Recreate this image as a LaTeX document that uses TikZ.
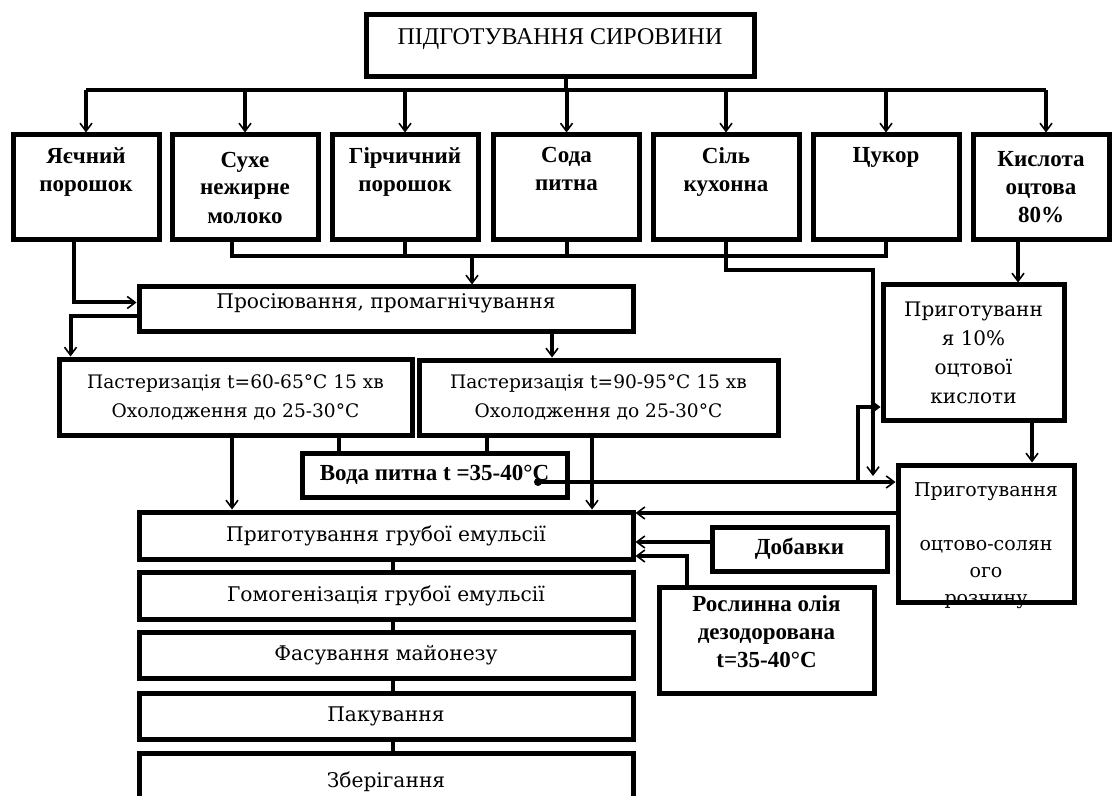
\documentclass[tikz,border=0pt]{standalone}
\usepackage{fontspec}
\setmainfont{Liberation Serif}
\newfontfamily\lite{DejaVu Serif}
\usetikzlibrary{arrows.meta}
\begin{document}
\begin{tikzpicture}[x=0.5pt,y=-0.5pt,line width=2pt,
    box/.style={draw,line width=2.5pt,inner sep=0pt,align=center},
    head/.style={box,font=\bfseries\fontsize{11.5}{14}\selectfont,minimum width=73pt,minimum height=52.5pt},
    stage/.style={box,font=\lite\fontsize{10.1}{14.5}\selectfont,minimum width=247pt},
    note/.style={box,font=\lite\fontsize{9.3}{14.5}\selectfont},
    input/.style={box,font=\bfseries\fontsize{11.5}{14}\selectfont},
    arr/.style={-{Straight Barb[length=4pt,width=6pt,line width=0.8pt]}}]
  \useasboundingbox (0,0) rectangle (1112,796);
  \clip (0,0) rectangle (1112,796);
  \node[box,font=\fontsize{12}{14}\selectfont,minimum width=194pt,minimum height=31pt,
    text height=14.75pt,text depth=16.25pt] (top) at (560,46) {ПІДГОТУВАННЯ СИРОВИНИ};
  \node[head] (egg) at (86,187.5) {Яєчний\\порошок\\\strut};
  \node[head] (milk) at (245,187.5) {Сухе\\нежирне\\молоко};
  \node[head] (mustard) at (405,187.5) {Гірчичний\\порошок\\\strut};
  \node[head] (soda) at (566.5,187.5) {Сода\\питна\\\strut};
  \node[head] (salt) at (726,187.5) {Сіль\\кухонна\\\strut};
  \node[head] (sugar) at (886,187.5) {Цукор\\\strut\\\strut};
  \node[head,minimum width=68pt] (acid) at (1041,187.5) {Кислота\\оцтова\\80\%};
  \node[stage,minimum height=22.5pt,text height=11pt,text depth=11.5pt] (sift) at (386,309.5)
    {Просіювання, промагнічування};
  \node[note,minimum width=176.5pt,minimum height=38pt] (past1) at (235.5,397)
    {Пастеризація t=60-65°C 15 хв\\Охолодження до 25-30°C};
  \node[note,minimum width=179.5pt,minimum height=37.5pt] (past2) at (598.5,397.5)
    {Пастеризація t=90-95°C 15 хв\\Охолодження до 25-30°C};
  \node[input,minimum width=132.5pt,minimum height=22pt] (water) at (434.5,475) {Вода питна t =35-40°C};
  \node[note,font=\lite\fontsize{10}{14.5}\selectfont,minimum width=90.5pt,minimum height=67.5pt] (acid10)
    at (973.5,352.5) {Приготуванн\\я 10\%\\оцтової\\кислоти};
  \node[note,font=\lite\fontsize{9.5}{13.5}\selectfont,inner ysep=-4pt,minimum width=88pt,minimum height=68.5pt]
    (brine) at (986,533.5) {\strut\\[-3.5pt]Приготування\\\strut\\оцтово-солян\\ого\\розчину};
  \node[input,minimum width=87.5pt,minimum height=22pt] (addit) at (799.5,549) {Добавки};
  \node[input,minimum width=107.5pt,minimum height=53pt] (oil) at (766.5,640)
    {Рослинна олія\\дезодорована\\t=35-40°C\\[-9.5pt]\strut};
  \node[stage,minimum height=23.5pt] (emul) at (386,535.5) {Приготування грубої емульсії};
  \node[stage,minimum height=23.5pt] (homog) at (386,595.5) {Гомогенізація грубої емульсії};
  \node[stage,minimum height=23pt] (fill) at (386,655) {Фасування майонезу};
  \node[stage,minimum height=23pt] (pack) at (386,716) {Пакування};
  \node[stage,minimum height=28.5pt] (store) at (386,781.5) {Зберігання};
  \coordinate (bus) at (566,90);
  \coordinate (col) at (472,256);
  \coordinate (w) at (538,482);
  \coordinate (s) at (873,476);
  \draw (566,0 |- top.south) -- (bus);
  \draw (egg.north |- bus) -- (1046,0 |- bus);
  \draw ([xshift=-6.5pt]milk.south) |- (sugar.south |- col) -- (sugar.south);
  \draw (mustard.south) -- (mustard.south |- col);
  \draw (soda.south) -- (soda.south |- col);
  \draw (339,0 |- past1.south) -- (339,0 |- water.north);
  \draw (487,0 |- past2.south) -- (487,0 |- water.north);
  \draw (393,0 |- emul.south) -- (393,0 |- homog.north);
  \draw (393,0 |- homog.south) -- (393,0 |- fill.north);
  \draw (393,0 |- fill.south) -- (393,0 |- pack.north);
  \draw (393,0 |- pack.south) -- (393,0 |- store.north);
  \fill (w) circle (2pt);
  \begin{scope}[arr]
    \draw (egg.north |- bus) -- (egg.north);
    \draw (milk.north |- bus) -- (milk.north);
    \draw (mustard.north |- bus) -- (mustard.north);
    \draw (soda.north |- bus) -- (soda.north);
    \draw (salt.north |- bus) -- (salt.north);
    \draw (sugar.north |- bus) -- (sugar.north);
    \draw (1046,0 |- bus) -- (1046,0 |- acid.north);
    \draw (col) -- (col |- sift.north);
    \draw ([xshift=-6pt]egg.south) |- ([yshift=3.5pt]sift.west);
    \draw ([yshift=-3.5pt]sift.west) -| ([xshift=7pt]past1.north west);
    \draw (552,0 |- sift.south) -- (552,0 |- past2.north);
    \draw (232,0 |- past1.south) -- (232,0 |- emul.north);
    \draw (592,0 |- past2.south) -- (592,0 |- emul.north);
    \draw (w) -- (brine.west |- w);
    \draw (858,0 |- w) |- (acid10.west |- 0,407);
    \draw (salt.south) |- (873,270) -- (s);
    \draw (1018,0 |- acid.south) -- (1018,0 |- acid10.north);
    \draw (1032,0 |- acid10.south) -- (1032,0 |- brine.north);
    \draw (brine.west |- 0,513) -- (emul.east |- 0,513);
    \draw ([yshift=3.5pt]addit.west) -- (emul.east |- 0,542);
    \draw (687,0 |- oil.north) |- (emul.east |- 0,556);
  \end{scope}
\end{tikzpicture}
\end{document}
